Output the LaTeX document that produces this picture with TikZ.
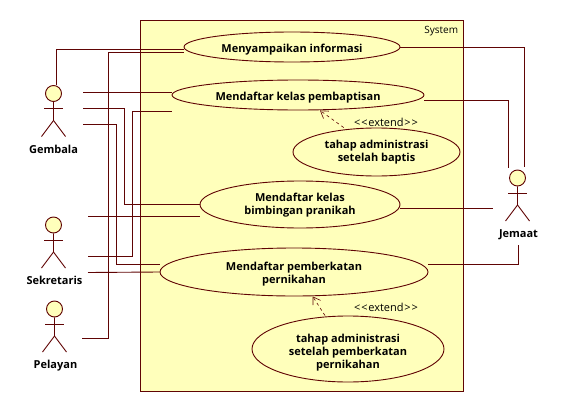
\documentclass[tikz,border=0pt]{standalone}
\usepackage{fontspec}
\setmainfont{Open Sans}
\usetikzlibrary{shapes.geometric,arrows.meta}

\definecolor{umlline}{RGB}{96,4,4}
\definecolor{umlfill}{RGB}{255,255,187}

\begin{document}
\begin{tikzpicture}[x=1pt,y=-1pt,line width=.9pt]
            \tikzstyle{usecase}=[ellipse, draw=umlline, fill=umlfill, inner sep=0pt, align=center, font=\fontsize{11}{13}\selectfont\bfseries]
            \tikzstyle{actorhead}=[circle, draw=umlline, fill=umlfill, inner sep=0pt, minimum size=16pt]
            \tikzstyle{actorname}=[font=\fontsize{11}{13}\selectfont\bfseries, inner sep=0pt, anchor=base]
            \tikzstyle{assoc}=[draw=umlline]
            \tikzstyle{extendarrow}=[draw=umlline, dash pattern=on 3pt off 3pt, line width=.6pt, -{Straight Barb[length=7pt,width=9pt]}]
            \tikzstyle{note}=[font=\fontsize{10}{12}\selectfont, inner sep=0pt]
            \tikzstyle{stereotype}=[font=\fontsize{11}{13}\selectfont, inner sep=0pt]

            \useasboundingbox (0,0) rectangle (564,412);

            \draw[draw=umlline, fill=umlfill] (140.5,20.5) rectangle (463.5,391);
            \node[note, left] (system) at (458.5,31) {System};

            \node[usecase, text height=13pt, minimum width=216pt, minimum height=30pt] (informasi)  at (292,47)    {Menyampaikan informasi};
            \node[usecase, text height=14pt, minimum width=252pt, minimum height=30pt] (baptis)     at (298,95)    {Mendaftar kelas pembaptisan};
            \node[usecase, minimum width=167pt, minimum height=48pt] (admbaptis)  at (376.5,152) {tahap administrasi\\setelah baptis};
            \node[usecase, text height=23.5pt, minimum width=200pt, minimum height=47pt] (pranikah)   at (300,204.5) {Mendaftar kelas\\bimbingan pranikah};
            \node[usecase, text height=25.5pt, minimum width=268pt, minimum height=48pt] (nikah)      at (294,272)   {Mendaftar pemberkatan\\pernikahan};
            \node[usecase, text height=41.5pt, minimum width=192pt, minimum height=66pt] (admnikah)   at (348,349)   {tahap administrasi\\setelah pemberkatan\\pernikahan};

            \foreach \name/\x/\y/\dx/\txt in {gembala/53.5/93.5/0/Gembala, sekretaris/53.5/225/1/Sekretaris, pelayan/54.5/309/1/Pelayan, jemaat/517.5/178/1/Jemaat} {
                \node[actorhead] (\name) at (\x,\y) {};
                \draw[umlline] (\x-9.5,\y+15) -- (\x+9.5,\y+15);
                \draw[umlline] (\name.south) -- (\x,\y+27) -- (\x-12,\y+43);
                \draw[umlline] (\x,\y+27) -- (\x+12,\y+43);
                \node[actorname] (\name-name) at (\x+\dx,\y+59.5) {\txt};
            }

            % free ends next to the actors
            \coordinate (gembalaA) at (83,92);
            \coordinate (gembalaB) at (83,108);
            \coordinate (gembalaC) at (83,124);
            \coordinate (sekretarisA) at (88,216);
            \coordinate (sekretarisB) at (88,256.5);
            \coordinate (sekretarisC) at (88,272.5);
            \coordinate (pelayanA) at (82,338.5);
            \coordinate (jemaatA) at (524.5,167);
            \coordinate (jemaatB) at (508.5,168);
            \coordinate (jemaatC) at (493,208.5);
            \coordinate (jemaatD) at (518.5,245);

            \draw[assoc] ([xshift=3pt]gembala.north) |- ([yshift=-2.5pt]informasi.west);
            \draw[assoc] (pelayanA) -- (108.5,338.5) |- ([yshift=-5.5pt]informasi.west);
            \draw[assoc] (gembalaA) -- ([yshift=3pt]baptis.west);
            \draw[assoc] (sekretarisB) -- (132.5,256.5) |- ([yshift=-16pt]baptis.west);
            \draw[assoc] (gembalaB) -- (124.5,108) |- (pranikah.west);
            \draw[assoc] (sekretarisA) -- ([yshift=-11.5pt]pranikah.west);
            \draw[assoc] (gembalaC) -- (116.5,124) |- ([yshift=7.5pt]nikah.west);
            \draw[assoc] (sekretarisC) -- (nikah.west);

            \draw[assoc] (informasi.east) -| (jemaatA);
            \draw[assoc] ([yshift=-5pt]baptis.east) -| (jemaatB);
            \draw[assoc] ([yshift=-4pt]pranikah.east) -- (jemaatC);
            \draw[assoc] ([yshift=7.5pt]nikah.east) -| (jemaatD);

            \draw[extendarrow] ([xshift=-32.8pt]admbaptis.north) -- ([xshift=22pt]baptis.south);
            \draw[extendarrow] ([xshift=-23pt]admnikah.north) -- ([xshift=18.7pt]nikah.south);
            \node[stereotype] (extendA) at (386,122) {<\kern.8pt<\kern.8pt extend\kern.8pt>\kern.8pt>};
            \node[stereotype] (extendB) at (386,307) {<\kern.8pt<\kern.8pt extend\kern.8pt>\kern.8pt>};
\end{tikzpicture}
\end{document}
